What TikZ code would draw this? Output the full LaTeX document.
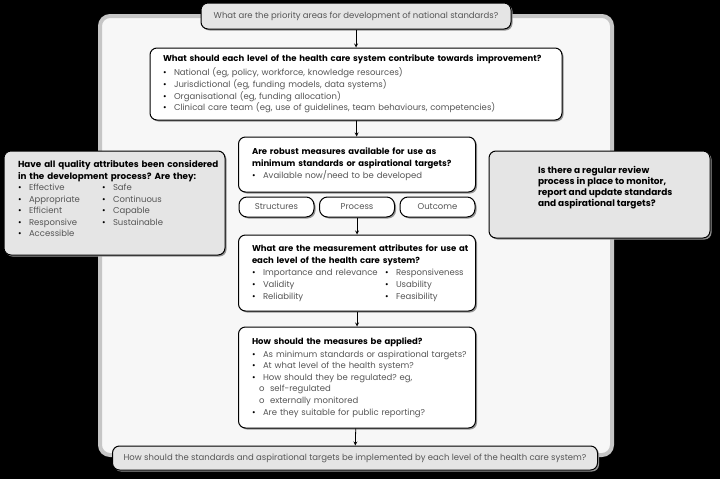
\documentclass[tikz,border=0pt]{standalone}
\usepackage{fontspec}
\setmainfont{Poppins}
\usepackage{tikz}
\usetikzlibrary{arrows,shapes,positioning,shadows}
\frenchspacing
\definecolor{hctext}{RGB}{85,85,85}
\definecolor{hcgrey}{RGB}{229,229,229}
\definecolor{hcpanel}{RGB}{247,247,247}
\definecolor{hcrim}{RGB}{198,198,198}
\definecolor{hcshadow}{RGB}{150,150,150}
\tikzstyle{question} = [rectangle, rounded corners=7pt, draw=black, line width=1pt, fill=white, inner sep=0pt, align=left, font=\fontsize{8.5}{11.6}\selectfont, drop shadow={shadow xshift=1.5pt, shadow yshift=-1.5pt, fill=hcshadow, opacity=1}]
\tikzstyle{greyquestion} = [question, fill=hcgrey]
\tikzstyle{dimension} = [question, rounded corners=8pt, align=center, text=hctext, minimum width=75pt, minimum height=20pt]
\tikzstyle{arrow} = [line width=0.8pt,->,>=stealth]
\newcommand{\hchead}[1]{\mbox{\textbf{#1}}}
\newcommand{\hcitem}[1]{\mbox{\makebox[11pt][l]{\color{black}\textbullet}#1}}
\newcommand{\hcsub}[1]{\mbox{\hspace*{7pt}\makebox[11pt][l]{o}#1}}

\begin{document}
\begin{tikzpicture}[x=1pt, y=-1pt]
\useasboundingbox (0,0) rectangle (720,479);
\fill[black] (0,0) rectangle (720,479);
% Panel
\draw[hcrim, line width=4pt, fill=hcpanel, rounded corners=10pt] (100,16) rectangle (612,455);

% Main column
\node (priority) [greyquestion, minimum width=310pt, minimum height=26pt, align=center, text=hctext] at (356,16) {What are the priority areas for development of national standards?};
\node (contrib) [question, minimum width=412pt, minimum height=72pt, text width=386pt] at (356,84) {\hchead{What should each level of the health care system contribute towards improvement?}\\[2.5pt]
\color{hctext}\hcitem{National (eg, policy, workforce, knowledge resources)}\\
\hcitem{Jurisdictional (eg, funding models, data systems)}\\
\hcitem{Organisational (eg, funding allocation)}\\
\hcitem{Clinical care team (eg, use of guidelines, team behaviours, competencies)}};
\node (robust) [question, minimum width=237pt, minimum height=55pt, text width=210pt] at (357,164.5) {\hchead{Are robust measures available for use as}\\
\hchead{minimum standards or aspirational targets?}\\[1pt]
\color{hctext}\hcitem{Available now/need to be developed}};

% Dimensions
\node (structures) [dimension] at (276.5,207) {Structures};
\node (process) [dimension] at (357,207) {Process};
\node (outcome) [dimension] at (437.5,207) {Outcome};

\node (attrib) [question, minimum width=237pt, minimum height=76pt, text width=210pt] at (357,273) {\hchead{What are the measurement attributes for use at}\\
\hchead{each level of the health care system?}\\[1pt]
\color{hctext}\makebox[133pt][l]{\hcitem{Importance and relevance}}\hcitem{Responsiveness}\\
\makebox[133pt][l]{\hcitem{Validity}}\hcitem{Usability}\\
\makebox[133pt][l]{\hcitem{Reliability}}\hcitem{Feasibility}};
\node (applied) [question, minimum width=237pt, minimum height=101pt, text width=210pt] at (357,377.5) {\hchead{How should the measures be applied?}\\[1pt]
\color{hctext}\hcitem{As minimum standards or aspirational targets?}\\
\hcitem{At what level of the health system?}\\
\hcitem{How should they be regulated? eg,}\\
\hcsub{self-regulated}\\
\hcsub{externally monitored}\\
\hcitem{Are they suitable for public reporting?}};
\node (implement) [greyquestion, minimum width=485pt, minimum height=24pt, align=center, text=hctext] at (355,458) {How should the standards and aspirational targets be implemented by each level of the health care system?};

% Side questions
\node (quality) [greyquestion, minimum width=221pt, minimum height=104pt, text width=193pt, font=\fontsize{8.8}{11.5}\selectfont] at (114.5,203) {\hchead{Have all quality attributes been considered}\\
\hchead{in the development process? Are they:}\\
\fontsize{8.5}{11.5}\selectfont\color{hctext}\makebox[84pt][l]{\hcitem{Effective}}\hcitem{Safe}\\
\makebox[84pt][l]{\hcitem{Appropriate}}\hcitem{Continuous}\\
\makebox[84pt][l]{\hcitem{Efficient}}\hcitem{Capable}\\
\makebox[84pt][l]{\hcitem{Responsive}}\hcitem{Sustainable}\\
\hcitem{Accessible}\par\vspace*{8pt}};
\node (review) [greyquestion, minimum width=221pt, minimum height=87pt, font=\fontsize{9}{11}\selectfont\bfseries] at (599.5,194.5) {\hspace*{42pt}\parbox[c]{165pt}{Is there a regular review\\
process in place to monitor,\\
report and update standards\\
and aspirational targets?\\[6pt]}};

% Arrows
\draw[arrow] (priority) -- (contrib);
\draw[arrow] (contrib) -- (robust);
\draw[arrow] (process) -- (attrib);
\draw[arrow] (attrib) -- (applied);
\draw[arrow] (applied) -- (implement);
\end{tikzpicture}
\end{document}
